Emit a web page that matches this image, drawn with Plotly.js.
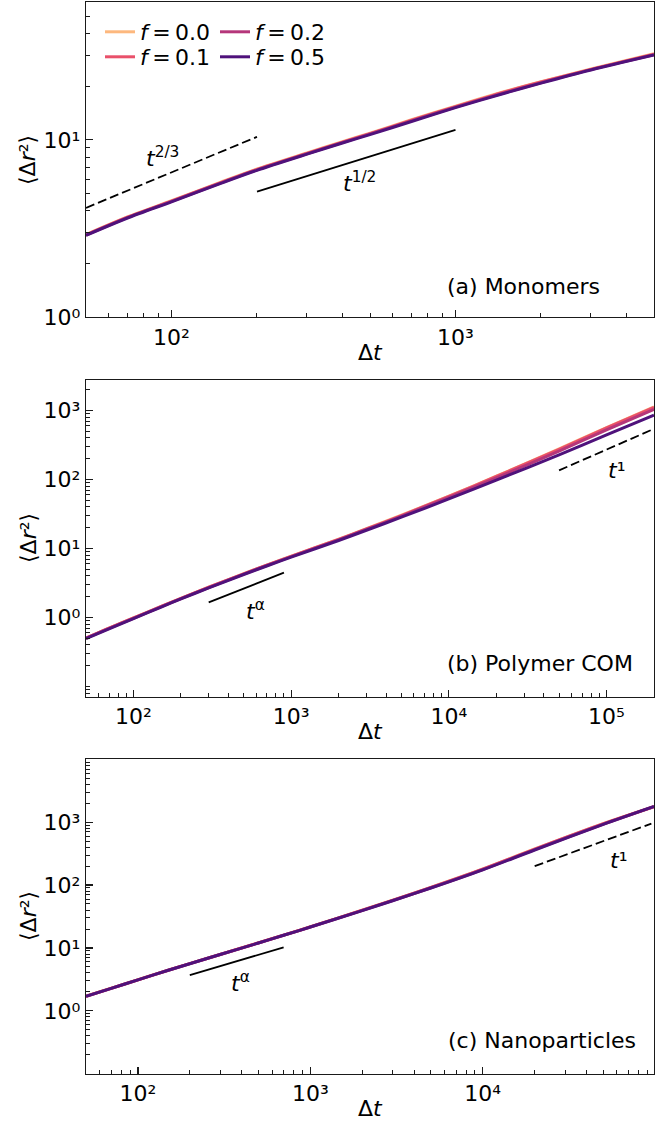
<!DOCTYPE html>
<html>
<head>
<meta charset="utf-8">
<script src="https://cdn.plot.ly/plotly-3.0.1.min.js"></script>
<style>html,body{margin:0;padding:0;background:#fff;}#chart{width:672px;height:1124px;}</style>
</head>
<body>
<div id="chart"></div>
<script>
// ---------------- data ----------------
const seriesNames = ["<i>f</i>\u2009=\u20090.0", "<i>f</i>\u2009=\u20090.1", "<i>f</i>\u2009=\u20090.2", "<i>f</i>\u2009=\u20090.5"];
const seriesColors = ["#fdb87e", "#e9506a", "#b5367a", "#4f127b"];

// (a) Monomers
const timeA = [50, 70, 100, 150, 200, 300, 400, 500, 700, 1000, 1500, 2000, 3000, 5000];
const monoF00 = [2.92, 3.67, 4.53, 5.79, 6.85, 8.44, 9.77, 10.9, 13.0, 15.5, 18.8, 21.3, 25.1, 30.6];
const monoF01 = [2.91, 3.66, 4.51, 5.76, 6.81, 8.39, 9.71, 10.85, 12.9, 15.4, 18.7, 21.2, 25.0, 30.4];
const monoF02 = [2.90, 3.64, 4.49, 5.73, 6.77, 8.35, 9.66, 10.8, 12.8, 15.3, 18.5, 21.0, 24.9, 30.2];
const monoF05 = [2.89, 3.62, 4.47, 5.70, 6.73, 8.30, 9.60, 10.7, 12.7, 15.2, 18.4, 20.9, 24.8, 30.1];

// (b) Polymer COM
const timeB = [50, 70, 100, 150, 200, 300, 500, 700, 1000, 2000, 3000, 5000, 10000, 20000, 50000, 100000, 200000];
const comF00 = [0.50, 0.70, 0.98, 1.44, 1.89, 2.73, 4.29, 5.72, 7.70, 13.6, 19.3, 30.2, 57.2, 111, 276, 563, 1120];
const comF01 = [0.50, 0.70, 0.98, 1.44, 1.89, 2.73, 4.28, 5.70, 7.67, 13.5, 19.1, 29.9, 56.6, 110, 272, 556, 1105];
const comF02 = [0.50, 0.69, 0.97, 1.43, 1.87, 2.70, 4.24, 5.64, 7.58, 13.3, 18.8, 29.3, 54.8, 105, 257, 522, 1035];
const comF05 = [0.49, 0.68, 0.96, 1.41, 1.85, 2.67, 4.18, 5.55, 7.45, 13.0, 18.3, 28.3, 52.0, 97.5, 226, 442, 850];

// (c) Nanoparticles
const timeC = [50, 70, 100, 150, 200, 300, 500, 700, 1000, 2000, 3000, 5000, 10000, 20000, 50000, 98400];
const npF00 = [1.71, 2.29, 3.12, 4.43, 5.64, 7.90, 12.1, 16.0, 21.7, 39.9, 57.5, 92.0, 180, 375, 950, 1765];
const npF01 = [1.70, 2.28, 3.11, 4.42, 5.63, 7.88, 12.05, 15.95, 21.6, 39.7, 57.1, 91.5, 179, 372, 945, 1768];
const npF02 = [1.70, 2.28, 3.11, 4.41, 5.62, 7.86, 12.0, 15.9, 21.5, 39.5, 56.8, 90.5, 177, 367, 933, 1772];
const npF05 = [1.70, 2.28, 3.11, 4.41, 5.61, 7.85, 12.0, 15.9, 21.5, 39.3, 56.4, 89.7, 174.5, 361, 920, 1775];

// guide lines (power-law references)
const guideA1T = [50, 200],       guideA1Y = [4.13, 10.4];   // t^{2/3}, dashed
const guideA2T = [200, 1000],     guideA2Y = [5.1, 11.4];    // t^{1/2}, solid
const guideB1T = [300, 900],      guideB1Y = [1.65, 4.45];   // t^alpha, solid
const guideB2T = [50000, 200000], guideB2Y = [135, 540];     // t^1, dashed
const guideC1T = [200, 700],      guideC1Y = [3.7, 10.2];    // t^alpha, solid
const guideC2T = [20000, 95000],  guideC2Y = [200, 950];     // t^1, dashed

// tick labels
const yMajorVals = [1, 10, 100, 1000];
const yMajorText = ["10\u2070", "10\u00b9", "10\u00b2", "10\u00b3"];
const xMajorVals = [100, 1000, 10000, 100000];
const xMajorText = ["10\u00b2", "10\u00b3", "10\u2074", "10\u2075"];

// ---------------- build ----------------
function minorTicks(lo, hi, extra) {
  const out = [];
  for (let e = -3; e <= 6; e++) {
    for (let m = 2; m <= 9; m++) {
      const v = m * Math.pow(10, e);
      if (v >= lo * 0.999 && v <= hi * 1.001) out.push(v);
    }
  }
  return out.concat(extra || []);
}

const font = "DejaVu Sans, Liberation Sans, sans-serif";
const axisColor = "#1a1a1a";
const FS = 22;

function axisBase(range, vals, text, minorVals) {
  return {
    type: "log",
    range: range,
    showline: true, linecolor: axisColor, linewidth: 1.3, mirror: true,
    ticks: "inside", ticklen: 7, tickwidth: 1.2, tickcolor: axisColor,
    tickmode: "array", tickvals: vals, ticktext: text,
    tickfont: {family: font, size: FS, color: "#000"},
    showgrid: false, zeroline: false,
    minor: {ticks: "inside", ticklen: 4, tickwidth: 1, tickcolor: axisColor,
            tickmode: "array", tickvals: minorVals, showgrid: false}
  };
}

const W = 672, H = 1124;
const xDom = [86 / W, 654 / W];
const domA = [1 - 317 / H, 1 - 2 / H];
const domB = [1 - 696.7 / H, 1 - 380 / H];
const domC = [1 - 1073.7 / H, 1 - 759.3 / H];

const rangeAx = [Math.log10(50), Math.log10(5000)];
const rangeAy = [0, Math.log10(60)];
const rangeBx = [Math.log10(50), Math.log10(200000)];
const rangeBy = [-1.15, 3.44];
const rangeCx = [Math.log10(50), Math.log10(98400)];
const rangeCy = [-1, 4];

const legendIds = ["legend", "legend2", "legend3", "legend4"];
const traces = [];
const sets = [
  {t: timeA, ys: [monoF00, monoF01, monoF02, monoF05], xa: "x", ya: "y", legend: true},
  {t: timeB, ys: [comF00, comF01, comF02, comF05], xa: "x2", ya: "y2", legend: false},
  {t: timeC, ys: [npF00, npF01, npF02, npF05], xa: "x3", ya: "y3", legend: false}
];
sets.forEach(s => {
  s.ys.forEach((y, i) => {
    traces.push({
      x: s.t, y: y, xaxis: s.xa, yaxis: s.ya, type: "scatter", mode: "lines",
      line: {color: seriesColors[i], width: 3, shape: "spline", smoothing: 0.8},
      name: seriesNames[i], showlegend: s.legend, legend: legendIds[i]
    });
  });
});
function guide(tx, ty, xa, ya, dashed) {
  traces.push({x: tx, y: ty, xaxis: xa, yaxis: ya, type: "scatter", mode: "lines",
    line: {color: "#000", width: 1.8, dash: dashed ? "9px,4px" : "solid"},
    showlegend: false, hoverinfo: "skip"});
}
guide(guideA1T, guideA1Y, "x", "y", true);
guide(guideA2T, guideA2Y, "x", "y", false);
guide(guideB1T, guideB1Y, "x2", "y2", false);
guide(guideB2T, guideB2Y, "x2", "y2", true);
guide(guideC1T, guideC1Y, "x3", "y3", false);
guide(guideC2T, guideC2Y, "x3", "y3", true);

function ann(text, x, y, xref, yref, extra) {
  return Object.assign({text: text, x: x, y: y, xref: xref, yref: yref, showarrow: false,
    font: {family: font, size: FS, color: "#000"}}, extra || {});
}
const L = Math.log10;
const rLabel = "\u27e8\u0394<i>r</i>\u00b2\u27e9";
const tLabel = "\u0394<i>t</i>";
const annotations = [
  ann("<i>t</i><sup>2/3</sup>", L(93), L(8.0), "x", "y"),
  ann("<i>t</i><sup>1/2</sup>", L(461), L(5.8), "x", "y"),
  ann("<i>t</i><sup>α</sup>", L(590), L(1.28), "x2", "y2"),
  ann("<i>t</i>\u00b9", L(116000), L(135), "x2", "y2"),
  ann("<i>t</i><sup>α</sup>", L(391), L(2.9), "x3", "y3"),
  ann("<i>t</i>\u00b9", L(61000), L(250), "x3", "y3"),
  ann("(a) Monomers", 602 / W, 1 - 287 / H, "paper", "paper", {xanchor: "right", yanchor: "middle"}),
  ann("(b) Polymer COM", 635 / W, 1 - 663 / H, "paper", "paper", {xanchor: "right", yanchor: "middle"}),
  ann("(c) Nanoparticles", 638 / W, 1 - 1040 / H, "paper", "paper", {xanchor: "right", yanchor: "middle"}),
  ann(tLabel, 370 / W, 1 - 352 / H, "paper", "paper", {xanchor: "center", yanchor: "middle"}),
  ann(tLabel, 370 / W, 1 - 731 / H, "paper", "paper", {xanchor: "center", yanchor: "middle"}),
  ann(tLabel, 370 / W, 1 - 1108 / H, "paper", "paper", {xanchor: "center", yanchor: "middle"}),
  ann(rLabel, 28 / W, 1 - 160 / H, "paper", "paper", {textangle: -90, xanchor: "center", yanchor: "middle"}),
  ann(rLabel, 28 / W, 1 - 538 / H, "paper", "paper", {textangle: -90, xanchor: "center", yanchor: "middle"}),
  ann(rLabel, 28 / W, 1 - 916 / H, "paper", "paper", {textangle: -90, xanchor: "center", yanchor: "middle"})
];

function legendAt(px, py) {
  return {x: px / W, y: 1 - py / H, xanchor: "left", yanchor: "middle", bgcolor: "rgba(0,0,0,0)",
          borderwidth: 0, font: {family: font, size: FS, color: "#000"}, itemwidth: 30};
}

const layout = {
  width: W, height: H,
  margin: {l: 0, r: 0, t: 0, b: 0},
  paper_bgcolor: "#fff", plot_bgcolor: "#fff",
  font: {family: font, size: FS, color: "#000"},
  xaxis: Object.assign(axisBase(rangeAx, xMajorVals, xMajorText, minorTicks(50, 5000)), {domain: xDom, anchor: "y"}),
  yaxis: Object.assign(axisBase(rangeAy, yMajorVals, yMajorText, minorTicks(1, 60)), {domain: domA, anchor: "x"}),
  xaxis2: Object.assign(axisBase(rangeBx, xMajorVals, xMajorText, minorTicks(50, 200000)), {domain: xDom, anchor: "y2"}),
  yaxis2: Object.assign(axisBase(rangeBy, yMajorVals, yMajorText, minorTicks(0.07, 2750, [0.1])), {domain: domB, anchor: "x2"}),
  xaxis3: Object.assign(axisBase(rangeCx, xMajorVals, xMajorText, minorTicks(50, 98400)), {domain: xDom, anchor: "y3"}),
  yaxis3: Object.assign(axisBase(rangeCy, yMajorVals, yMajorText, minorTicks(0.1, 10000, [0.1, 10000])), {domain: domC, anchor: "x3"}),
  legend: legendAt(100, 32),
  legend2: legendAt(100, 57),
  legend3: legendAt(215, 32),
  legend4: legendAt(215, 57),
  annotations: annotations,
  showlegend: true
};

Plotly.newPlot("chart", traces, layout, {staticPlot: true, displayModeBar: false});
</script>
</body>
</html>
